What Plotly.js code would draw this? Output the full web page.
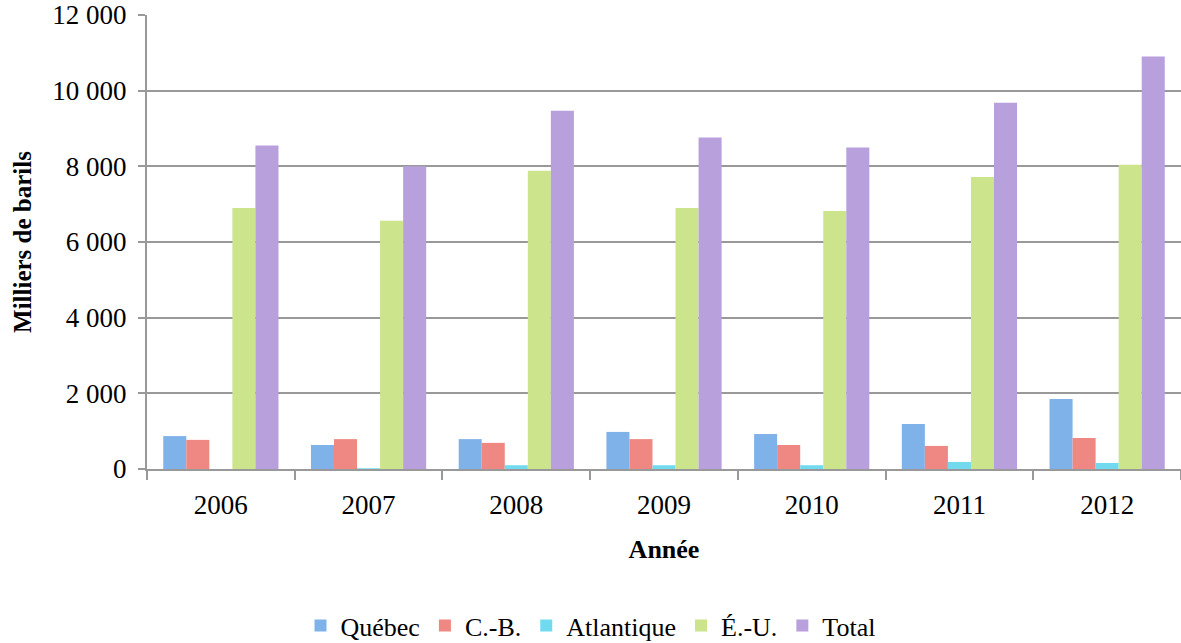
<!DOCTYPE html>
<html><head><meta charset="utf-8">
<script src="https://cdn.plot.ly/plotly-3.0.1.min.js"></script>
<style>body{margin:0;background:#fff}#c{width:1181px;height:643px}</style>
</head><body><div id="c"></div>
<script>
const years = ['2006','2007','2008','2009','2010','2011','2012'];
const quebec = [870, 635, 790, 980, 925, 1190, 1850];
const cb = [770, 790, 690, 790, 635, 610, 820];
const atlantique = [0, 20, 100, 100, 100, 185, 160];
const eu = [6900, 6560, 7880, 6900, 6820, 7720, 8040];
const total = [8550, 8000, 9470, 8760, 8500, 9680, 10900];
const seriesNames = ['Québec','C.-B.','Atlantique','É.-U.','Total'];
const colors = ['#80b2ea','#ef8882','#72daee','#cce48c','#b7a0dc'];
const data = [quebec, cb, atlantique, eu, total].map((v,i)=>({
  type:'bar', x:years, y:v, name:seriesNames[i],
  marker:{color:colors[i], line:{width:0}}, hoverinfo:'skip'
}));
const fam = '"Liberation Serif","DejaVu Serif",serif';
Plotly.newPlot('c', data, {
  width:1181, height:643,
  margin:{l:147, r:0, t:15, b:174, autoexpand:false},
  paper_bgcolor:'#fff', plot_bgcolor:'#fff',
  separators:', ',
  font:{family:fam, size:27, color:'#000'},
  bargap:0.22, bargroupgap:0,
  xaxis:{type:'category', automargin:false, showline:true, linecolor:'#999', linewidth:2,
    ticks:'outside', tickson:'boundaries', ticklen:9, tickcolor:'#999', tickwidth:2,
    tickfont:{family:fam, size:27}, showgrid:false, ticklabelstandoff:11,
    title:{text:'<b>Année</b>', font:{family:fam, size:26}, standoff:20}},
  yaxis:{range:[0,12000], dtick:2000, tickformat:',d', automargin:false, showline:true, linecolor:'#999', linewidth:2,
    ticks:'outside', ticklen:7, tickcolor:'#999', tickwidth:2, ticklabelstandoff:6,
    gridcolor:'#999', gridwidth:2, zeroline:false, tickfont:{family:fam, size:27},
    title:{text:'<b>Milliers de barils</b>', font:{family:fam, size:25}, standoff:14}},
  legend:{orientation:'h', x:0.5, xanchor:'center', xref:'container', yref:'paper', y:-0.293, yanchor:'top',
    font:{family:fam, size:26}, traceorder:'normal', itemwidth:30},
  showlegend:true
}, {staticPlot:true});
</script></body></html>
